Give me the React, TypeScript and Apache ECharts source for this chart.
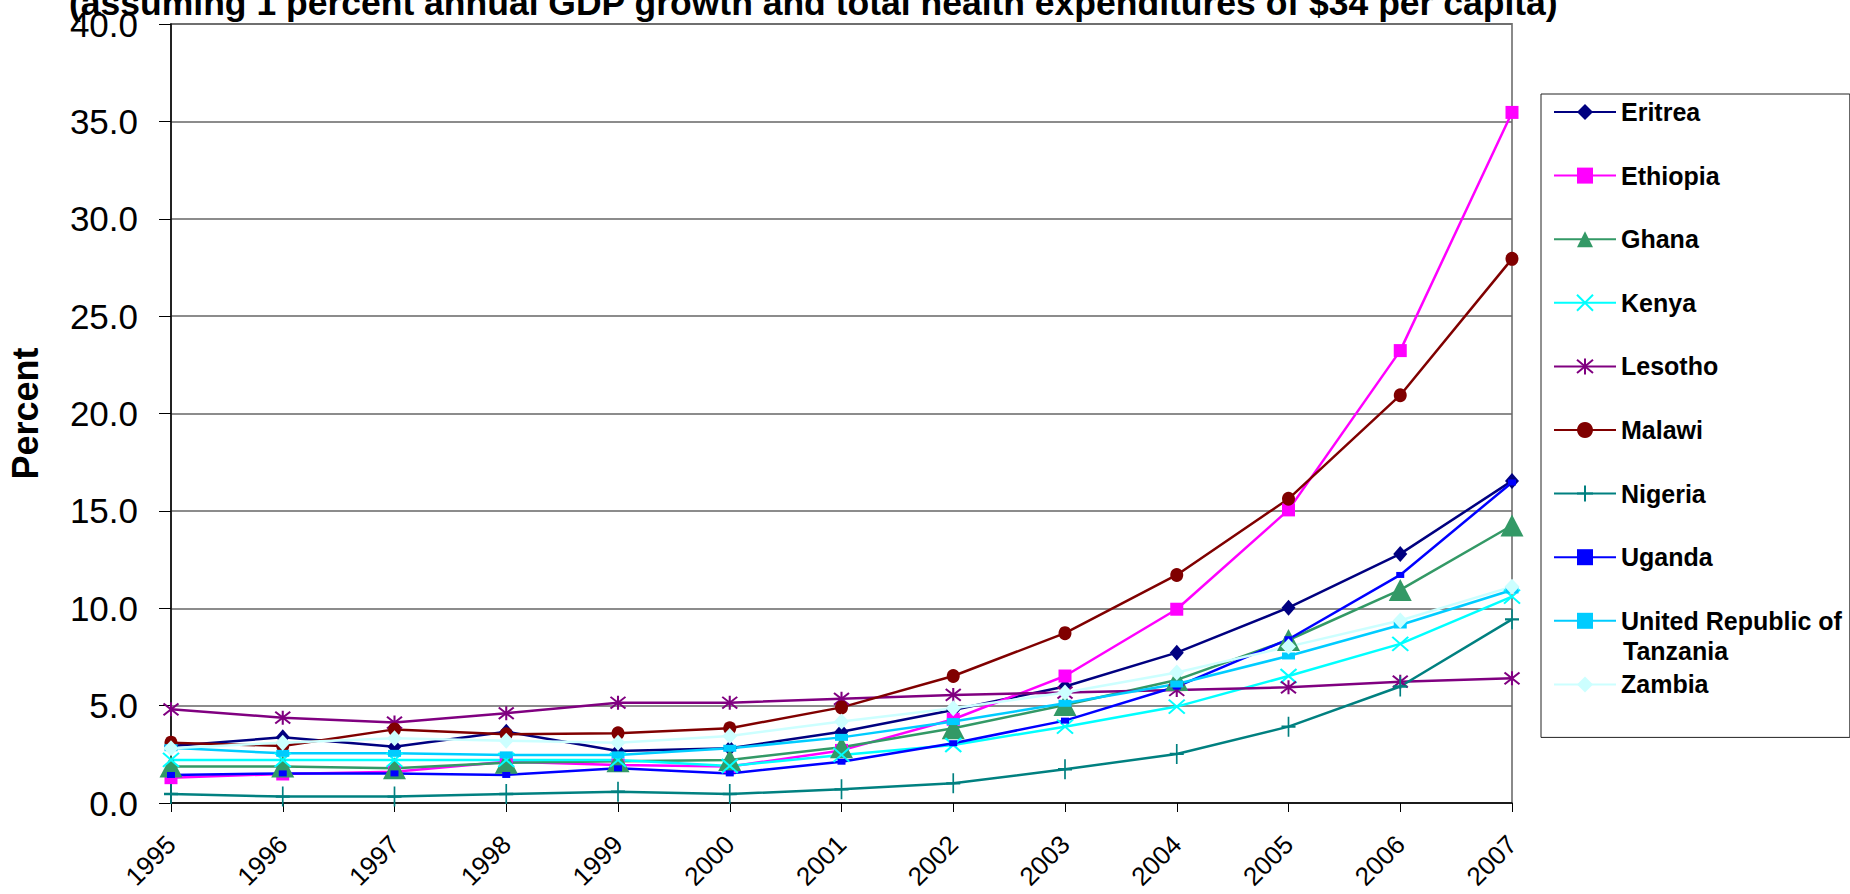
import React, { useEffect, useRef } from "react";
import * as echarts from "echarts";

const titleText =
  "(assuming 1 percent annual GDP growth and total health expenditures of $34 per capita)";
const yAxisTitle = "Percent";
const years = ["1995", "1996", "1997", "1998", "1999", "2000", "2001", "2002", "2003", "2004", "2005", "2006", "2007"];

const eritrea = [2.93, 3.37, 2.89, 3.66, 2.67, 2.81, 3.66, 4.78, 5.98, 7.72, 10.03, 12.79, 16.54];
const ethiopia = [1.3, 1.49, 1.61, 2.12, 1.95, 1.87, 2.7, 4.3, 6.52, 9.95, 15.05, 23.23, 35.46];
const ghana = [1.87, 1.87, 1.78, 2.07, 2.15, 2.21, 2.86, 3.84, 5.03, 6.32, 8.37, 10.94, 14.25];
const kenya = [2.21, 2.21, 2.21, 2.21, 2.21, 1.9, 2.47, 2.98, 3.92, 4.95, 6.52, 8.17, 10.6];
const lesotho = [4.81, 4.38, 4.13, 4.61, 5.15, 5.15, 5.35, 5.55, 5.67, 5.8, 5.94, 6.23, 6.4];
const malawi = [3.1, 2.93, 3.78, 3.53, 3.58, 3.84, 4.91, 6.52, 8.72, 11.71, 15.62, 20.94, 27.94];
const nigeria = [0.46, 0.33, 0.33, 0.46, 0.58, 0.46, 0.7, 1.01, 1.73, 2.52, 3.92, 5.98, 9.43];
const uganda = [1.44, 1.52, 1.52, 1.44, 1.78, 1.52, 2.12, 3.07, 4.23, 5.98, 8.41, 11.71, 16.46];
const tanzania = [2.84, 2.55, 2.55, 2.47, 2.47, 2.81, 3.37, 4.18, 5.12, 6.11, 7.55, 9.14, 10.94];
const zambia = [2.81, 3.1, 3.32, 3.2, 3.1, 3.44, 4.18, 4.86, 5.67, 6.7, 8.03, 9.37, 11.11];

const seriesNames = [
  "Eritrea",
  "Ethiopia",
  "Ghana",
  "Kenya",
  "Lesotho",
  "Malawi",
  "Nigeria",
  "Uganda",
  "United Republic of Tanzania",
  "Zambia",
];
const seriesValues = [eritrea, ethiopia, ghana, kenya, lesotho, malawi, nigeria, uganda, tanzania, zambia];
const seriesColors = [
  "#000080",
  "#FF00FF",
  "#339966",
  "#00FFFF",
  "#800080",
  "#800000",
  "#008080",
  "#0000FF",
  "#00CCFF",
  "#CCFFFF",
];

const X_PATH = "path://M0,0L10,10M10,0L0,10";
const STAR_PATH = "path://M0,1L10,11M10,1L0,11M5,0L5,12";
const PLUS_PATH = "path://M5,0L5,20M0,10L10,10";

const seriesSymbols: any[] = [
  { symbol: "diamond", size: [14, 16], stroke: false },
  { symbol: "rect", size: [13, 13], stroke: false },
  { symbol: "triangle", size: [23, 22], stroke: false },
  { symbol: X_PATH, size: [16, 14], stroke: true },
  { symbol: STAR_PATH, size: [15, 14], stroke: true },
  { symbol: "circle", size: [13, 14], stroke: false },
  { symbol: PLUS_PATH, size: [14, 20], stroke: true },
  { symbol: "rect", size: [8, 6], stroke: false },
  { symbol: "rect", size: [13, 7], stroke: false },
  { symbol: "diamond", size: [15, 16], stroke: false },
];

export default function App() {
  const ref = useRef<HTMLDivElement>(null);

  useEffect(() => {
    if (!ref.current) return;
    const chart = echarts.init(ref.current, undefined, { renderer: "svg" });
    const font = "'Liberation Sans', Arial, sans-serif";

    const series = seriesNames.map((name, i) => {
      const s = seriesSymbols[i];
      return {
        name,
        type: "line",
        data: seriesValues[i],
        symbol: s.symbol,
        symbolSize: s.size,
        showAllSymbol: true,
        lineStyle: { color: seriesColors[i], width: 2.5 },
        itemStyle: s.stroke
          ? { color: seriesColors[i], borderColor: seriesColors[i], borderWidth: 2 }
          : { color: seriesColors[i], borderWidth: 0 },
        emphasis: { disabled: true },
      };
    });

    chart.setOption({
      animation: false,
      backgroundColor: "#ffffff",
      textStyle: { fontFamily: font },
      title: {
        text: titleText,
        left: 64,
        top: -20,
        textStyle: { fontSize: 35.5, fontWeight: "bold", color: "#000", fontFamily: font },
      },
      grid: {
        left: 171,
        right: 338,
        top: 24,
        bottom: 91,
        containLabel: false,
        outerBoundsMode: "none",
        show: true,
        borderColor: "#8a8a8a",
        borderWidth: 2,
        backgroundColor: "transparent",
      },
      legend: {
        orient: "vertical",
        left: 1541,
        top: 94,
        padding: [5, 8, 40, 12],
        itemGap: 37.6,
        itemWidth: 62,
        itemHeight: 20,
        borderColor: "#222",
        borderWidth: 1,
        backgroundColor: "#fff",
        data: seriesNames,
        formatter: (n: string) => (n === "United Republic of Tanzania" ? "United Republic of" : n),
        textStyle: { fontSize: 25, fontWeight: "bold", color: "#000", lineHeight: 26, fontFamily: font },
      },
      xAxis: {
        type: "category",
        data: years,
        boundaryGap: false,
        axisLine: { lineStyle: { color: "#000", width: 1.5 } },
        axisTick: { show: true, length: 9, lineStyle: { color: "#000" } },
        axisLabel: { rotate: 45, fontSize: 26, color: "#000", margin: 37, fontFamily: font },
        splitLine: { show: false },
      },
      yAxis: {
        type: "value",
        min: 0,
        max: 40,
        interval: 5,
        name: yAxisTitle,
        nameLocation: "middle",
        nameRotate: 90,
        nameGap: 128,
        nameTextStyle: { fontSize: 36, fontWeight: "bold", color: "#000", fontFamily: font },
        axisLine: { show: true, lineStyle: { color: "#000", width: 1.5 } },
        axisTick: { show: true, length: 12, lineStyle: { color: "#000" } },
        axisLabel: {
          fontSize: 35,
          color: "#000",
          margin: 33,
          fontFamily: font,
          formatter: (v: number) => v.toFixed(1),
        },
        splitLine: { show: true, lineStyle: { color: "#666", width: 1.5 } },
      },
      graphic: [
        {
          type: "text",
          z: 200,
          x: 1623,
          y: 638,
          style: { text: "Tanzania", fontSize: 25, fontWeight: "bold", fill: "#000", fontFamily: font },
        },
      ],
      series,
    });

    return () => chart.dispose();
  }, []);

  return (
    <div
      ref={ref}
      style={{ position: "fixed", left: 0, top: 0, width: "1850px", height: "894px", background: "#fff" }}
    />
  );
}
